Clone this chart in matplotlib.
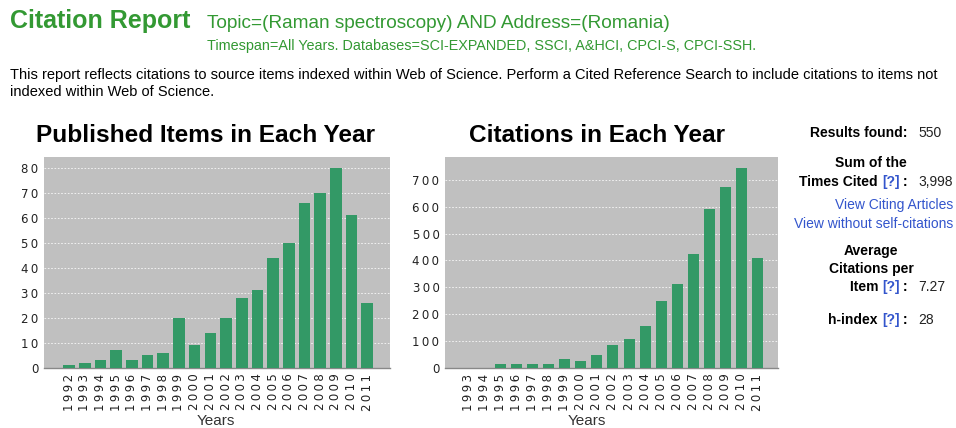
import matplotlib
matplotlib.use("Agg")
import matplotlib.pyplot as plt
import numpy as np

plt.rcParams['font.family'] = ['Liberation Sans', 'DejaVu Sans']

# ---------------- data ----------------
pub_years = [str(y) for y in range(1992, 2012)]
pub_counts = [1, 2, 3, 7, 3, 5, 6, 20, 9, 14, 20, 28, 31, 44, 50, 66, 70, 80, 61, 26]

cit_years = [str(y) for y in range(1993, 2012)]
cit_counts = [0, 0, 15, 15, 15, 15, 33, 25, 48, 84, 107, 157, 248, 311, 425, 590, 675, 745, 408]

pub_ticks = [0, 10, 20, 30, 40, 50, 60, 70, 80]
cit_ticks = [0, 100, 200, 300, 400, 500, 600, 700]

W, H = 956, 428
fig = plt.figure(figsize=(W / 100, H / 100), dpi=100)
fig.patch.set_facecolor('white')

GREEN_TXT = '#339933'
BAR = '#339966'
BLUE = '#3355cc'
THIN = '\u2009'


def fx(x):
    return x / W


def fy(y):
    return 1 - y / H


def axes_px(l, t, r, b):
    return fig.add_axes([fx(l), fy(b), (r - l) / W, (b - t) / H])


def spaced(s):
    return THIN.join(s)


def bar_panel(ax, labels, vals, ticks, xlim, ylim, width):
    ax.set_facecolor('#c0c0c0')
    x = np.arange(len(labels))
    ax.bar(x, vals, width=width, color=BAR, zorder=3)
    ax.set_xlim(*xlim)
    ax.set_ylim(*ylim)
    ax.set_yticks(ticks)
    ax.set_yticklabels([spaced(str(t)) for t in ticks], fontsize=8.5,
                       family='DejaVu Sans', color='#222222')
    ax.set_xticks(x)
    ax.set_xticklabels([spaced(l) for l in labels], rotation=90, fontsize=8.5,
                       family='DejaVu Sans', color='#222222')
    ax.tick_params(length=0, pad=4)
    for t in ticks[1:]:
        ax.axhline(t, color='white', lw=0.6, ls=(0, (2, 2)), zorder=2, alpha=0.9)
    for s in ['top', 'right', 'left']:
        ax.spines[s].set_visible(False)
    ax.spines['bottom'].set_color('#888888')
    ax.spines['bottom'].set_linewidth(1.0)


ax1 = axes_px(44, 157, 390, 368)
bar_panel(ax1, pub_years, pub_counts, pub_ticks, (-1.6, 20.45), (0, 84.2), 0.74)

ax2 = axes_px(445, 157, 778, 368)
bar_panel(ax2, cit_years, cit_counts, cit_ticks, (-1.43, 19.25), (0, 785), 0.68)

fig.text(fx(216), fy(421), 'Years', fontsize=11, color='#333333',
         ha='center', va='center')
fig.text(fx(587), fy(421), 'Years', fontsize=11, color='#333333',
         ha='center', va='center')

# chart titles
fig.text(fx(206), fy(136), 'Published Items in Each Year', fontsize=17.6,
         fontweight='bold', ha='center', va='center', color='black')
fig.text(fx(597), fy(136), 'Citations in Each Year', fontsize=17.6,
         fontweight='bold', ha='center', va='center', color='black')

# header
fig.text(fx(10), fy(21), 'Citation Report', fontsize=18, fontweight='bold',
         color=GREEN_TXT, ha='left', va='center')
fig.text(fx(207), fy(23), 'Topic=(Raman spectroscopy) AND Address=(Romania)',
         fontsize=13.7, color=GREEN_TXT, ha='left', va='center')
fig.text(fx(207), fy(46), 'Timespan=All Years. Databases=SCI-EXPANDED, SSCI, A&HCI, CPCI-S, CPCI-SSH.',
         fontsize=10.4, color=GREEN_TXT, ha='left', va='center')
fig.text(fx(10), fy(75), 'This report reflects citations to source items indexed within Web of Science. '
         'Perform a Cited Reference Search to include citations to items not',
         fontsize=10.5, color='black', ha='left', va='center')
fig.text(fx(10), fy(92), 'indexed within Web of Science.', fontsize=10.5, color='black',
         ha='left', va='center')

# right info panel
FS = 10
renderer = fig.canvas.get_renderer()


def right_pieces(xr, y, pieces):
    """Draw text pieces right-to-left ending at pixel xr."""
    x = xr
    for txt, col, wt in reversed(pieces):
        t = fig.text(fx(x), fy(y), txt, fontsize=FS, color=col, fontweight=wt,
                     ha='right', va='center')
        bb = t.get_window_extent(renderer=renderer)
        x -= bb.width


VALX = 918
COLX = 908
right_pieces(COLX, 133, [('Results found:', 'black', 'bold')])
fig.text(fx(VALX), fy(133), '550', fontsize=FS, ha='left', va='center', color='#222222')

fig.text(fx(871), fy(163), 'Sum of the', fontsize=FS, fontweight='bold', ha='center', va='center')
right_pieces(COLX, 182, [('Times Cited ', 'black', 'bold'), ('[?]', BLUE, 'bold'),
                         (' :', 'black', 'bold')])
fig.text(fx(VALX), fy(182), '3,998', fontsize=FS, ha='left', va='center', color='#222222')
fig.text(fx(953), fy(205), 'View Citing Articles', fontsize=FS, color=BLUE, ha='right', va='center')
fig.text(fx(953), fy(224), 'View without self-citations', fontsize=FS, color=BLUE, ha='right', va='center')

fig.text(fx(871), fy(251), 'Average', fontsize=FS, fontweight='bold', ha='center', va='center')
fig.text(fx(871), fy(269), 'Citations per', fontsize=FS, fontweight='bold', ha='center', va='center')
right_pieces(COLX, 287, [('Item ', 'black', 'bold'), ('[?]', BLUE, 'bold'),
                         (' :', 'black', 'bold')])
fig.text(fx(VALX), fy(287), '7.27', fontsize=FS, ha='left', va='center', color='#222222')

right_pieces(COLX, 320, [('h-index ', 'black', 'bold'), ('[?]', BLUE, 'bold'),
                         (' :', 'black', 'bold')])
fig.text(fx(VALX), fy(320), '28', fontsize=FS, ha='left', va='center', color='#222222')

fig.savefig('out.png', dpi=100, facecolor='white')
